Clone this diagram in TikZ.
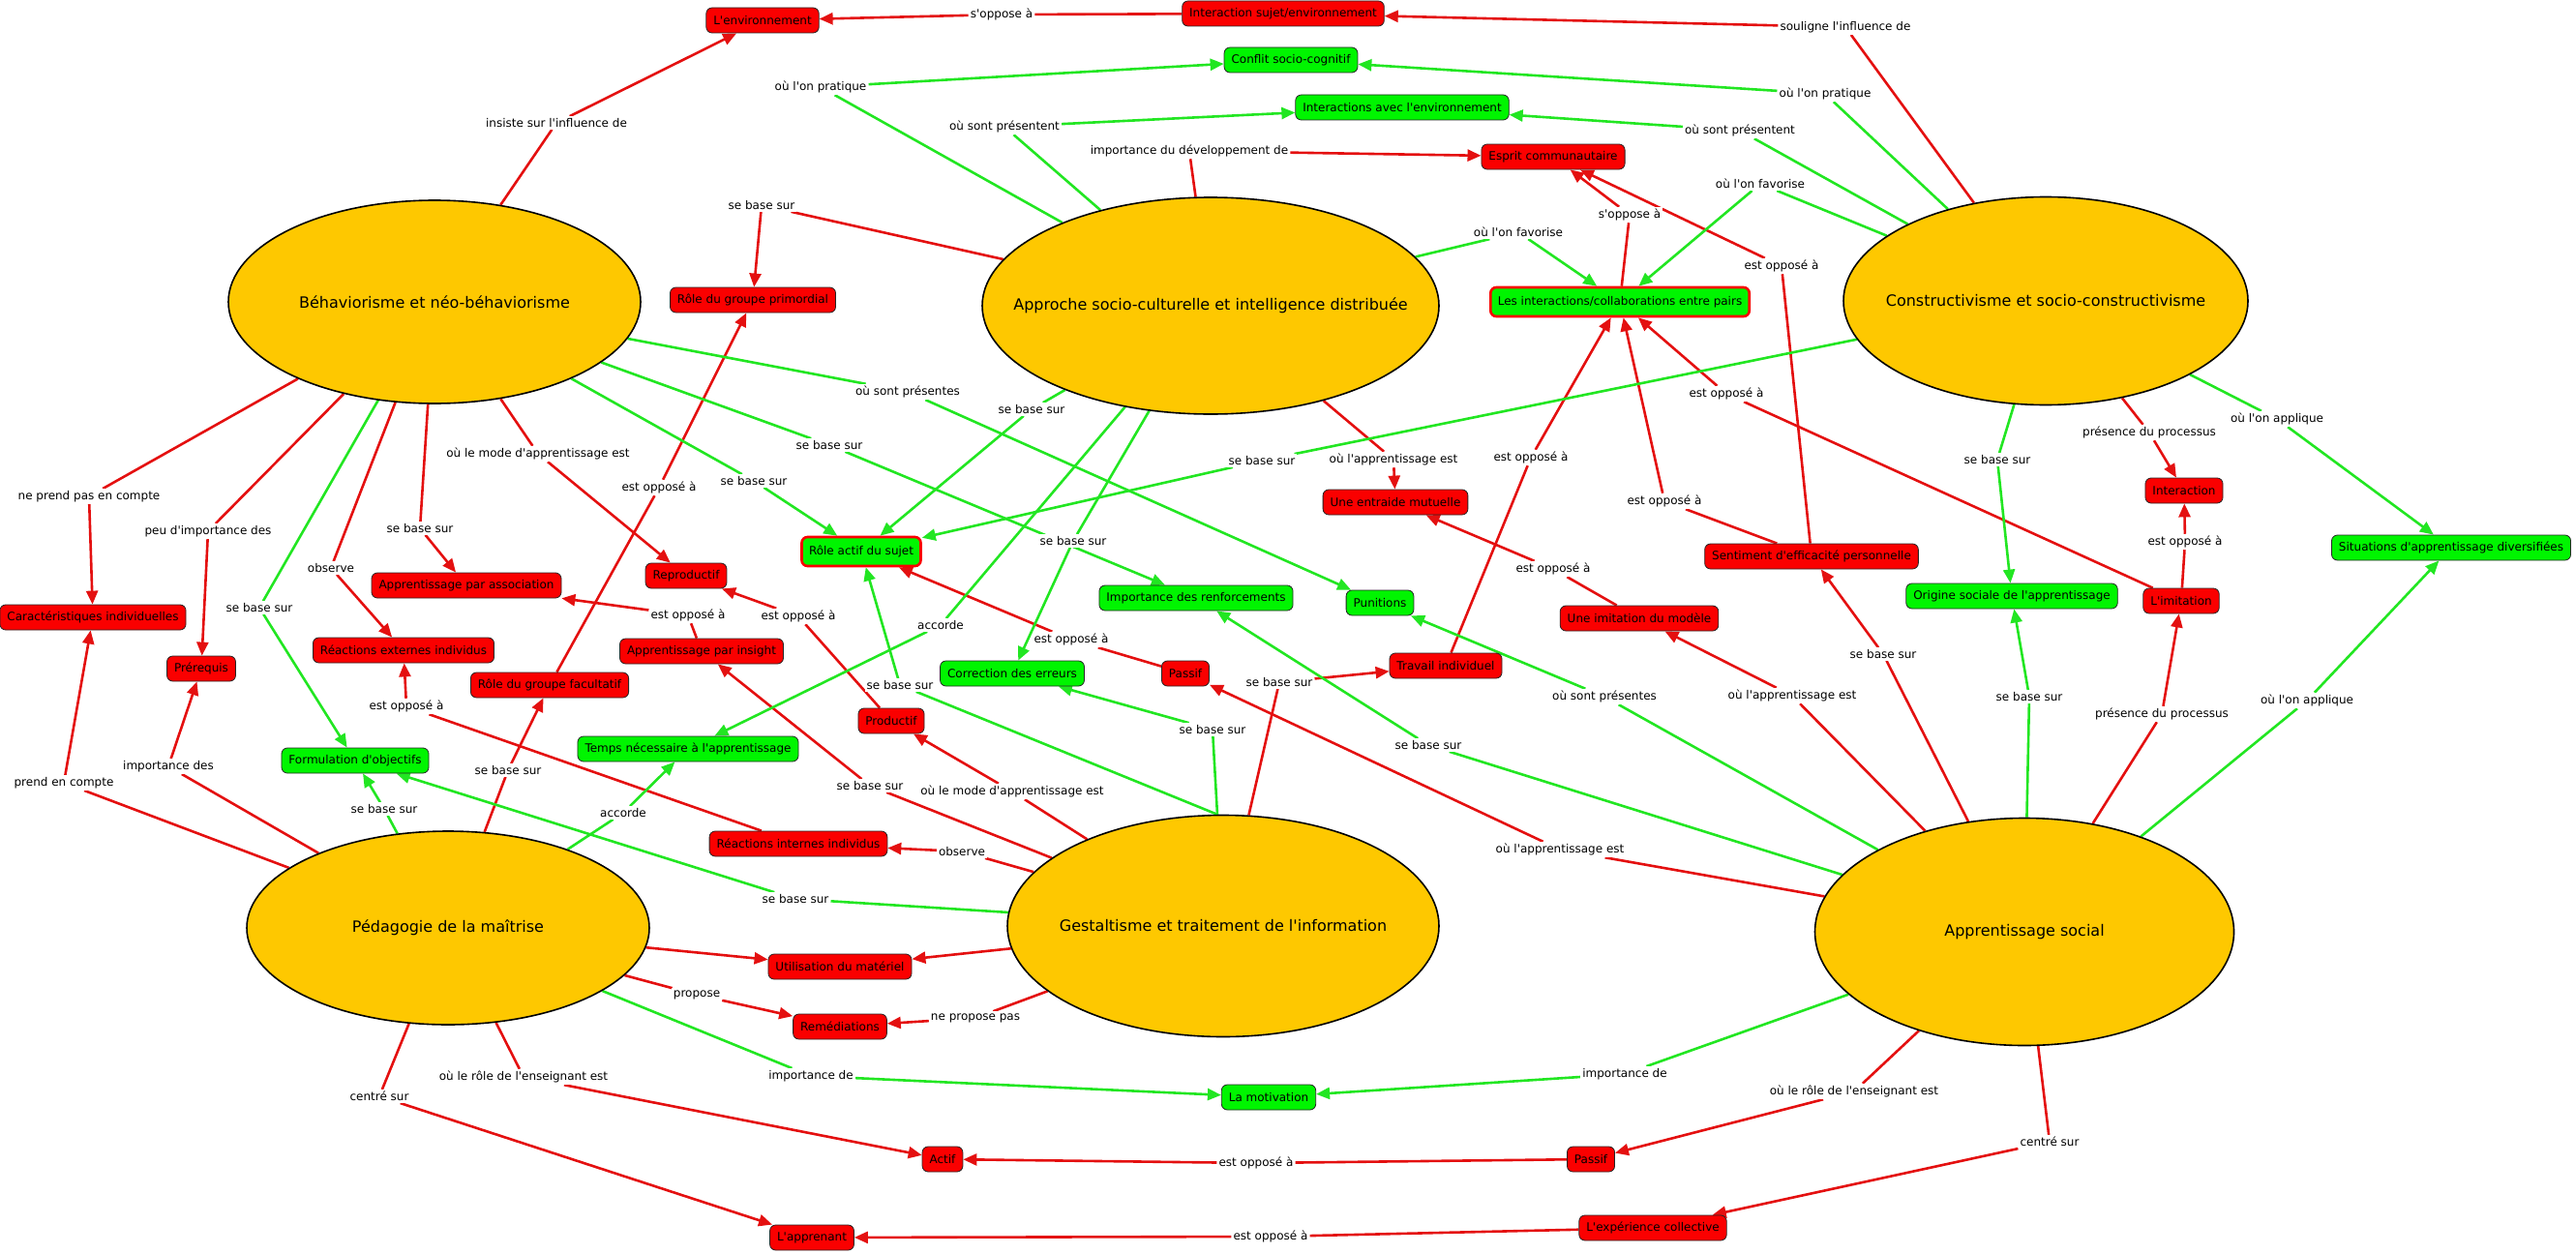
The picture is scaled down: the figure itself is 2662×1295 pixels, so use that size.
\documentclass[tikz,border=0pt]{standalone}
\usepackage{fontspec}
\setmainfont{DejaVu Sans}[Ligatures=TeXOff]
\usetikzlibrary{arrows.meta,shapes.geometric}
\definecolor{lred}{RGB}{228,16,16}
\definecolor{lgreen}{RGB}{34,230,34}
\definecolor{bred}{RGB}{250,0,0}
\definecolor{bgreen}{RGB}{0,245,0}
\definecolor{conc}{RGB}{254,200,0}
\pgfdeclarelayer{bg}
\pgfsetlayers{bg,main}
\newcommand\ctext[1]{\makebox[0pt][c]{#1}}
\tikzset{
 concept/.style={ellipse, draw=black, line width=1.6pt, fill=conc, inner sep=0pt, font=\fontsize{16}{19}\selectfont},
 rbox/.style={rounded corners=6pt, draw=black!85, line width=0.8pt, fill=bred, inner xsep=7.5pt, inner ysep=3pt, minimum height=26pt, font=\fontsize{12}{14}\selectfont, text=black},
 gbox/.style={rbox, fill=bgreen},
 gboxr/.style={gbox, draw=bred, line width=2.6pt, minimum height=30pt},
 lab/.style={inner sep=2pt, fill=white, font=\fontsize{12}{14}\selectfont},
 rl/.style={draw=lred, line width=2.6pt},
 gl/.style={draw=lgreen, line width=2.6pt},
 ra/.style={rl, -{Triangle[length=14pt,width=12pt]}},
 ga/.style={gl, -{Triangle[length=14pt,width=12pt]}},
}
\begin{document}
\begin{tikzpicture}[x=1pt,y=-1pt]
\useasboundingbox (0,0) rectangle (2662,1295);
% concepts
\node[concept, minimum width=426pt, minimum height=210pt] (beh) at (449,312) {\ctext{Béhaviorisme et néo-béhaviorisme}};
\node[concept, minimum width=472pt, minimum height=224pt] (soc) at (1251,316) {\ctext{Approche socio-culturelle et intelligence distribuée}};
\node[concept, minimum width=418pt, minimum height=215pt] (cons) at (2114,311) {\ctext{Constructivisme et socio-constructivisme}};
\node[concept, minimum width=416pt, minimum height=200pt] (ped) at (463,959) {\ctext{Pédagogie de la maîtrise}};
\node[concept, minimum width=446pt, minimum height=229pt] (ges) at (1264,957) {\ctext{Gestaltisme et traitement de l'information}};
\node[concept, minimum width=433pt, minimum height=235pt] (soci) at (2092,963) {\ctext{Apprentissage social}};
% red boxes
\node[rbox] (env) at (788,21) {L'environnement};
\node[rbox] (isub) at (1326,14) {Interaction sujet/environnement};
\node[rbox] (esp) at (1605,162) {Esprit communautaire};
\node[rbox] (rgp) at (778,310) {Rôle du groupe primordial};
\node[rbox] (car) at (96,638) {Caractéristiques individuelles};
\node[rbox] (pre) at (208,691) {Prérequis};
\node[rbox] (rext) at (417,672) {Réactions externes individus};
\node[rbox] (apa) at (482,605) {Apprentissage par association};
\node[rbox] (repr) at (709,595) {Reproductif};
\node[rbox] (rgf) at (568,708) {Rôle du groupe facultatif};
\node[rbox] (api) at (725,673) {Apprentissage par insight};
\node[rbox] (prod) at (921,745) {Productif};
\node[rbox] (passifA) at (1225,696) {Passif};
\node[rbox] (entr) at (1442,519) {Une entraide mutuelle};
\node[rbox] (trav) at (1494,688) {Travail individuel};
\node[rbox] (imod) at (1694,639) {Une imitation du modèle};
\node[rbox] (sent) at (1872,575) {Sentiment d'efficacité personnelle};
\node[rbox] (inter) at (2257,507) {Interaction};
\node[rbox] (limit) at (2254,621) {L'imitation};
\node[rbox] (rint) at (825,872) {Réactions internes individus};
\node[rbox] (util) at (868,999) {Utilisation du matériel};
\node[rbox] (rem) at (868,1061) {Remédiations};
\node[rbox] (actif) at (974,1198) {Actif};
\node[rbox] (passifB) at (1644,1198) {Passif};
\node[rbox] (appr) at (839,1279) {L'apprenant};
\node[rbox] (expc) at (1708,1269) {L'expérience collective};
% green boxes
\node[gbox] (conf) at (1334,62) {Conflit socio-cognitif};
\node[gbox] (ienv) at (1449,111) {Interactions avec l'environnement};
\node[gboxr] (lic) at (1674,312) {Les interactions/collaborations entre pairs};
\node[gboxr] (ractif) at (890,570) {Rôle actif du sujet};
\node[gbox] (form) at (367,786) {Formulation d'objectifs};
\node[gbox] (temps) at (711,774) {Temps nécessaire à l'apprentissage};
\node[gbox] (imprenf) at (1236,618) {Importance des renforcements};
\node[gbox] (puni) at (1426,623) {Punitions};
\node[gbox] (corr) at (1046,696) {Correction des erreurs};
\node[gbox] (orig) at (2079,616) {Origine sociale de l'apprentissage};
\node[gbox] (sit) at (2533,566) {Situations d'apprentissage diversifiées};
\node[gbox] (motiv) at (1311,1134) {La motivation};
% red labels
\node[lab] (L1) at (575,127) {insiste sur l'influence de};
\node[lab] (L2) at (1035,15) {s'oppose à};
\node[lab] (L3) at (1907,28) {souligne l'influence de};
\node[lab] (L4) at (1229,156) {importance du développement de};
\node[lab] (L5) at (787,212) {se base sur};
\node[lab] (L6) at (1684,222) {s'oppose à};
\node[lab] (L7) at (1841,275) {est opposé à};
\node[lab] (L8) at (1440,475) {où l'apprentissage est};
\node[lab] (L9) at (1582,473) {est opposé à};
\node[lab] (L10) at (1720,518) {est opposé à};
\node[lab] (L11) at (1605,588) {est opposé à};
\node[lab] (L12) at (1784,407) {est opposé à};
\node[lab] (L13) at (2258,560) {est opposé à};
\node[lab] (L14) at (2221,447) {présence du processus};
\node[lab] (L15) at (2234,738) {présence du processus};
\node[lab] (L16) at (1946,676) {se base sur};
\node[lab] (L17) at (1852,719) {où l'apprentissage est};
\node[lab] (L18) at (1322,705) {se base sur};
\node[lab] (L19) at (1612,878) {où l'apprentissage est};
\node[lab] (L20) at (1107,661) {est opposé à};
\node[lab] (L21) at (825,637) {est opposé à};
\node[lab] (L22) at (711,636) {est opposé à};
\node[lab] (L23) at (899,812) {se base sur};
\node[lab] (L24) at (1046,818) {où le mode d'apprentissage est};
\node[lab] (L25) at (681,504) {est opposé à};
\node[lab] (L26) at (556,469) {où le mode d'apprentissage est};
\node[lab] (L27) at (434,546) {se base sur};
\node[lab] (L28) at (342,587) {observe};
\node[lab] (L29) at (215,549) {peu d'importance des};
\node[lab] (L30) at (92,513) {ne prend pas en compte};
\node[lab] (L31) at (66,809) {prend en compte};
\node[lab] (L32) at (174,792) {importance des};
\node[lab] (L33) at (420,730) {est opposé à};
\node[lab] (L34) at (525,796) {se base sur};
\node[lab] (L35) at (994,880) {observe};
\node[lab] (L36) at (720,1028) {propose};
\node[lab] (L37) at (1008,1052) {ne propose pas};
\node[lab] (L38) at (541,1113) {où le rôle de l'enseignant est};
\node[lab] (L39) at (392,1133) {centré sur};
\node[lab] (L40) at (1298,1202) {est opposé à};
\node[lab] (L41) at (1916,1128) {où le rôle de l'enseignant est};
\node[lab] (L42) at (2118,1180) {centré sur};
\node[lab] (L43) at (1313,1278) {est opposé à};
% green labels
\node[lab] (G1) at (848,90) {où l'on pratique};
\node[lab] (G2) at (1038,131) {où sont présentent};
\node[lab] (G3) at (1886,97) {où l'on pratique};
\node[lab] (G4) at (1798,135) {où sont présentent};
\node[lab] (G5) at (1569,240) {où l'on favorise};
\node[lab] (G6) at (1819,190) {où l'on favorise};
\node[lab] (G7) at (938,405) {où sont présentes};
\node[lab] (G8) at (857,460) {se base sur};
\node[lab] (G9) at (779,497) {se base sur};
\node[lab] (G10) at (1066,423) {se base sur};
\node[lab] (G11) at (1304,476) {se base sur};
\node[lab] (G12) at (1109,559) {se base sur};
\node[lab] (G13) at (972,646) {accorde};
\node[lab] (G14) at (268,628) {se base sur};
\node[lab] (G15) at (397,836) {se base sur};
\node[lab] (G16) at (644,840) {accorde};
\node[lab] (G17) at (822,929) {se base sur};
\node[lab] (G18) at (930,708) {se base sur};
\node[lab] (G19) at (1253,754) {se base sur};
\node[lab] (G20) at (1476,770) {se base sur};
\node[lab] (G21) at (1658,720) {où sont présentes};
\node[lab] (G22) at (2064,475) {se base sur};
\node[lab] (G23) at (2097,720) {se base sur};
\node[lab] (G24) at (2353,433) {où l'on applique};
\node[lab] (G25) at (2384,724) {où l'on applique};
\node[lab] (G26) at (838,1112) {importance de};
\node[lab] (G27) at (1679,1110) {importance de};
\begin{pgfonlayer}{bg}
% red links
\foreach \f/\l/\t in {beh/L1/env, isub/L2/env, cons/L3/isub, soc/L4/esp, soc/L5/rgp,
  lic/L6/esp, sent/L7/esp, soc/L8/entr, trav/L9/lic, sent/L10/lic, imod/L11/entr,
  limit/L12/lic, limit/L13/inter, cons/L14/inter, soci/L15/limit, soci/L16/sent,
  soci/L17/imod, ges.77/L18/trav, soci/L19/passifA, passifA/L20/ractif, prod/L21/repr,
  api/L22/apa, ges/L23/api, ges/L24/prod, rgf/L25/rgp, beh/L26/repr, beh/L27/apa,
  beh/L28/rext, beh/L29/pre, beh/L30/car, ped/L31/car, ped/L32/pre, rint/L33/rext,
  ped/L34/rgf, ges/L35/rint, ped/L36/rem, ges/L37/rem, ped/L38/actif, ped/L39/appr,
  passifB/L40/actif, soci/L41/passifB, soci/L42/expc, expc/L43/appr}
  {\draw[rl] (\f) -- (\l); \draw[ra] (\l) -- (\t);}
\draw[ra] (ped) -- (util);
\draw[ra] (ges) -- (util);
% green links
\foreach \f/\l/\t in {soc/G1/conf, soc/G2/ienv, cons/G3/conf, cons/G4/ienv, soc/G5/lic,
  cons/G6/lic, beh/G7/puni, beh/G8/imprenf, beh/G9/ractif, soc/G10/ractif, cons/G11/ractif,
  soc/G12/corr, soc/G13/temps, beh/G14/form, ped/G15/form, ped/G16/temps, ges/G17/form,
  ges.93/G18/ractif, ges.93/G19/corr, soci/G20/imprenf, soci/G21/puni, cons/G22/orig,
  soci/G23/orig, cons/G24/sit, soci/G25/sit, ped/G26/motiv, soci/G27/motiv}
  {\draw[gl] (\f) -- (\l); \draw[ga] (\l) -- (\t);}
\end{pgfonlayer}
\end{tikzpicture}
\end{document}
